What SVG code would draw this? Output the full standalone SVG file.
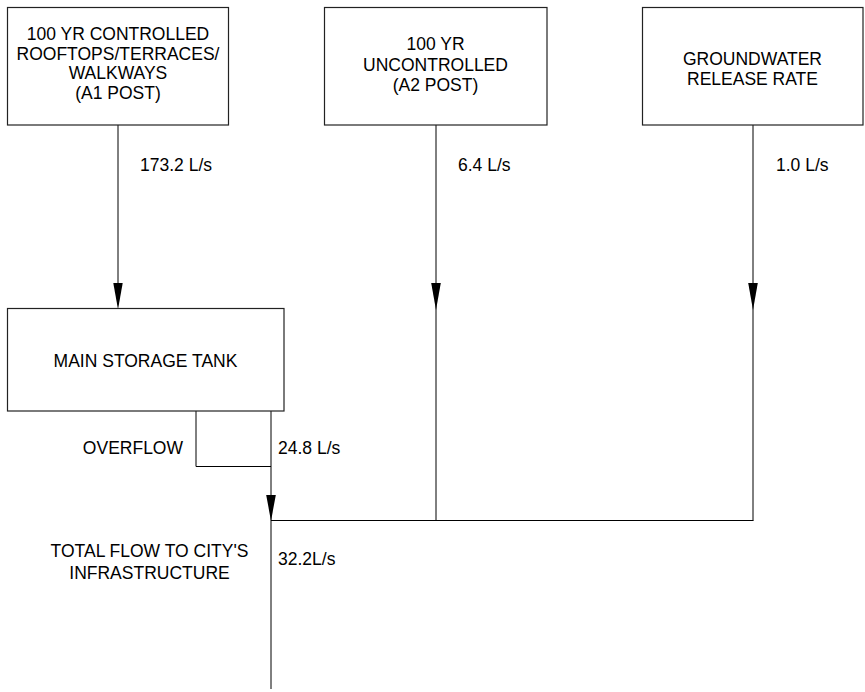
<svg xmlns="http://www.w3.org/2000/svg" width="865" height="692" viewBox="0 0 865 692">
<style>
.box{fill:#fff;stroke:#222;stroke-width:1.2}
.ln{stroke:#000;stroke-width:1;fill:none}
.t{font-family:"Liberation Sans",Arial,sans-serif;font-size:17.5px;fill:#000}
.c{text-anchor:middle}
</style>
<defs>
<marker id="ah" markerUnits="userSpaceOnUse" markerWidth="10" markerHeight="27" refX="5" refY="26" orient="auto-start-reverse" viewBox="0 0 10 27">
<path d="M0.3,0 L9.7,0 L5,26 Z" fill="#000"/>
</marker>
</defs>
<rect width="865" height="692" fill="#fff"/>
<g id="connectors">
<line class="ln" x1="118" y1="125" x2="118" y2="283"/>
<path d="M113.3,283 L122.7,283 L118,309.5 Z" fill="#000"/>
<line class="ln" x1="436" y1="125" x2="436" y2="520.5"/>
<path d="M431.2,283 L440.8,283 L436,310 Z" fill="#000"/>
<line class="ln" x1="753" y1="125" x2="753" y2="520.5"/>
<path d="M748.2,283 L757.8,283 L753,310 Z" fill="#000"/>
<polyline class="ln" points="196,411 196,466.5 271,466.5"/>
<line class="ln" x1="271" y1="411" x2="271" y2="689"/>
<path d="M266.2,495 L275.8,495 L271,521 Z" fill="#000"/>
<line class="ln" x1="271" y1="520.5" x2="753.5" y2="520.5"/>
<text class="t" x="140" y="171">173.2 L/s</text>
<text class="t" x="458" y="171">6.4 L/s</text>
<text class="t" x="776" y="171">1.0 L/s</text>
<text class="t" x="278" y="454">24.8 L/s</text>
<text class="t" x="278" y="565">32.2L/s</text>
<text class="t" x="183" y="454" text-anchor="end">OVERFLOW</text>
</g>
<g id="node-a1">
<rect class="box" x="7.5" y="7.5" width="221" height="117.5"/>
<text class="t c" x="118" y="40">100 YR CONTROLLED</text>
<text class="t c" x="118" y="59.5">ROOFTOPS/TERRACES/</text>
<text class="t c" x="118" y="79">WALKWAYS</text>
<text class="t c" x="118" y="98.5">(A1 POST)</text>
</g>
<g id="node-a2">
<rect class="box" x="324.5" y="7.5" width="222.5" height="117.5"/>
<text class="t c" x="435.5" y="50">100 YR</text>
<text class="t c" x="435.5" y="70.5">UNCONTROLLED</text>
<text class="t c" x="435.5" y="90.5">(A2 POST)</text>
</g>
<g id="node-gw">
<rect class="box" x="642.5" y="7.5" width="220.5" height="117.5"/>
<text class="t c" x="752.5" y="65">GROUNDWATER</text>
<text class="t c" x="752.5" y="85">RELEASE RATE</text>
</g>
<g id="node-tank">
<rect class="box" x="7.5" y="308.5" width="276.5" height="102.5"/>
<text class="t c" x="145.5" y="367">MAIN STORAGE TANK</text>
</g>
<g id="node-city">
<text class="t c" x="149.5" y="557">TOTAL FLOW TO CITY'S</text>
<text class="t c" x="149.5" y="579">INFRASTRUCTURE</text>
</g>
</svg>
